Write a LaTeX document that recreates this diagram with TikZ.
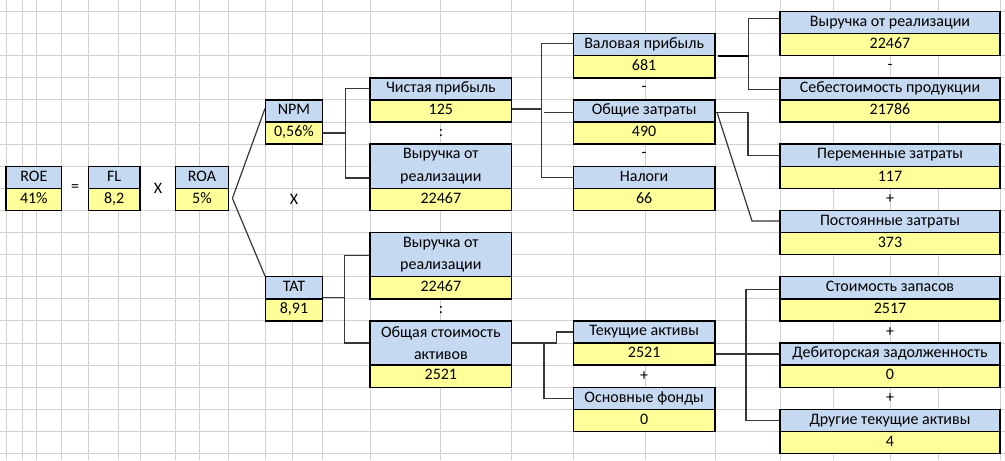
\documentclass[tikz,border=0pt]{standalone}
\usepackage{fontspec}
\setmainfont{Carlito}
\usetikzlibrary{calc}
\definecolor{hdr}{RGB}{197,217,241}
\definecolor{val}{RGB}{255,255,153}
\definecolor{grd}{RGB}{208,208,208}
\definecolor{lnk}{RGB}{55,55,55}
\newcommand\fnt{\fontsize{12}{16.6}\selectfont}
\pgfmathdeclarefunction{R}{1}{\pgfmathparse{11.5+22.1*#1}}
\tikzset{
  cellbase/.style={draw=black, line width=1.05pt, inner sep=0pt, font=\fnt},
  hdrbox/.style={cellbase, fill=hdr, text height=1.55ex, text depth=0.35ex},
  hdrtwo/.style={cellbase, fill=hdr, align=center},
  valbox/.style={cellbase, fill=val, text height=1.55ex, text depth=0.35ex},
  sign/.style={inner sep=0pt, font=\fnt},
  conn/.style={draw=lnk, line width=0.9pt},
  stub/.style={draw=black, line width=1.6pt},
  grid/.style={draw=grd, line width=0.75pt},
}
\newcommand\bx[7]{%
  \pgfmathsetmacro\bxw{(#4-#2)*0.75}%
  \pgfmathsetmacro\bxh{(#5-#3)*0.75}%
  \node[#6, minimum width=\bxw pt, minimum height=\bxh pt] (#1) at ({(#2+#4)/2},{(#3+#5)/2}) {#7};}
\begin{document}
\begin{tikzpicture}[x=0.75pt, y=-0.75pt]
\useasboundingbox (0,0) rectangle (1005,460);
\fill[white] (0,0) rectangle (1005,460);
% grid
\foreach \gx in {6,22.7,36.7,61.7,88.3,118.3,140,175.7,199,228.3,265.7,292.3,322.3,370,440,511.7,573.3,645,715,780,833.3,890,938.3,1000}
  \draw[grid] (\gx,0) -- (\gx,460);
\foreach \k in {0,...,20}
  \draw[grid] (0,{R(\k)}) -- (1005,{R(\k)});
% merged sign cells
\fill[white] (62.1,{R(7)+0.4}) rectangle (87.9,{R(9)-0.4});
\fill[white] (140.4,{R(7)+0.4}) rectangle (175.3,{R(9)-0.4});
% left chain
\bx{roeh}{6}{R(7)}{61.7}{R(8)}{hdrbox}{ROE}
\bx{roev}{6}{R(8)}{61.7}{R(9)}{valbox}{41\%}
\bx{flh}{88.3}{R(7)}{140}{R(8)}{hdrbox}{FL}
\bx{flv}{88.3}{R(8)}{140}{R(9)}{valbox}{8,2}
\bx{roah}{175.7}{R(7)}{228.3}{R(8)}{hdrbox}{ROA}
\bx{roav}{175.7}{R(8)}{228.3}{R(9)}{valbox}{5\%}
\bx{npmh}{265.7}{R(4)}{322.3}{R(5)}{hdrbox}{NPM}
\bx{npmv}{265.7}{R(5)}{322.3}{R(6)}{valbox}{0,56\%}
\bx{tath}{265.7}{R(12)}{322.3}{R(13)}{hdrbox}{TAT}
\bx{tatv}{265.7}{R(13)}{322.3}{R(14)}{valbox}{8,91}
% middle column
\bx{cph}{370}{R(3)}{511.7}{R(4)}{hdrbox}{Чистая прибыль}
\bx{cpv}{370}{R(4)}{511.7}{R(5)}{valbox}{125}
\bx{vr1h}{370}{R(6)}{511.7}{R(8)}{hdrtwo}{Выручка от\\реализации}
\bx{vr1v}{370}{R(8)}{511.7}{R(9)}{valbox}{22467}
\bx{vr2h}{370}{R(10)}{511.7}{R(12)}{hdrtwo}{Выручка от\\реализации}
\bx{vr2v}{370}{R(12)}{511.7}{R(13)}{valbox}{22467}
\bx{osh}{370}{R(14)}{511.7}{R(16)}{hdrtwo}{Общая стоимость\\активов}
\bx{osv}{370}{R(16)}{511.7}{R(17)}{valbox}{2521}
% second column
\bx{vph}{573.3}{R(1)}{715}{R(2)}{hdrbox}{Валовая прибыль}
\bx{vpv}{573.3}{R(2)}{715}{R(3)}{valbox}{681}
\bx{ozh}{573.3}{R(4)}{715}{R(5)}{hdrbox}{Общие затраты}
\bx{ozv}{573.3}{R(5)}{715}{R(6)}{valbox}{490}
\bx{nlh}{573.3}{R(7)}{715}{R(8)}{hdrbox}{Налоги}
\bx{nlv}{573.3}{R(8)}{715}{R(9)}{valbox}{66}
\bx{tah}{573.3}{R(14)}{715}{R(15)}{hdrbox}{Текущие активы}
\bx{tav}{573.3}{R(15)}{715}{R(16)}{valbox}{2521}
\bx{ofh}{573.3}{R(17)}{715}{R(18)}{hdrbox}{Основные фонды}
\bx{ofv}{573.3}{R(18)}{715}{R(19)}{valbox}{0}
% right column
\bx{rvh}{780}{R(0)}{1000}{R(1)}{hdrbox}{Выручка от реализации}
\bx{rvv}{780}{R(1)}{1000}{R(2)}{valbox}{22467}
\bx{sbh}{780}{R(3)}{1000}{R(4)}{hdrbox}{Себестоимость продукции}
\bx{sbv}{780}{R(4)}{1000}{R(5)}{valbox}{21786}
\bx{peh}{780}{R(6)}{1000}{R(7)}{hdrbox}{Переменные затраты}
\bx{pev}{780}{R(7)}{1000}{R(8)}{valbox}{117}
\bx{poh}{780}{R(9)}{1000}{R(10)}{hdrbox}{Постоянные затраты}
\bx{pov}{780}{R(10)}{1000}{R(11)}{valbox}{373}
\bx{szh}{780}{R(12)}{1000}{R(13)}{hdrbox}{Стоимость запасов}
\bx{szv}{780}{R(13)}{1000}{R(14)}{valbox}{2517}
\bx{dzh}{780}{R(15)}{1000}{R(16)}{hdrbox}{Дебиторская задолженность}
\bx{dzv}{780}{R(16)}{1000}{R(17)}{valbox}{0}
\bx{dth}{780}{R(18)}{1000}{R(19)}{hdrbox}{Другие текущие активы}
\bx{dtv}{780}{R(19)}{1000}{R(20)}{valbox}{4}
% signs
\node[sign] (s1) at (75,{R(8)}) {=};
\node[sign] (s2) at (158,{R(8)}) {X};
\node[sign] (s3) at (294,{R(8.5)}) {X};
\node[sign] (s4) at (441,{R(5.5)}) {:};
\node[sign] (s5) at (441,{R(13.5)}) {:};
\node[sign] (s6) at (644,{R(3.5)}) {-};
\node[sign] (s7) at (644,{R(6.5)}) {-};
\node[sign] (s8) at (644,{R(16.5)}) {+};
\node[sign] (s9) at (890,{R(2.5)}) {-};
\node[sign] (s10) at (890,{R(8.5)}) {+};
\node[sign] (s11) at (890,{R(14.5)}) {+};
\node[sign] (s12) at (890,{R(17.5)}) {+};
% connectors
\coordinate (roatip) at ($(roav.east)+(3.4,-1)$);
\draw[conn] (roatip) -- ($(npmh.west)+(0,-2.5)$);
\draw[conn] (roatip) -- (tath.north west);
% NPM bracket
\coordinate (j1) at ($(cph.west)+(-24,0)$);
\draw[conn] (cph.west) -- (j1) |- ($(vr1h.south west)+(0,-11)$);
\draw[conn] (npmv.east) -- (j1 |- npmv.east);
% net profit bracket
\coordinate (j2) at ($(vph.west)+(-31,-1)$);
\draw[conn] ($(vph.west)+(0,-1)$) -- (j2) |- (nlh.west);
\draw[conn] ($(cpv.east)+(0,-2)$) -- ($(j2 |- cpv.east)+(0,-2)$);
\draw[conn] ($(j2 |- ozh.west)+(2.7,1.5)$) -- ($(ozh.west)+(0,1.5)$);
% gross profit bracket
\coordinate (j3) at ($(rvh.west)+(-30.7,-4)$);
\draw[conn] ($(rvh.west)+(0,-4)$) -- (j3) |- ($(sbh.west)+(0,1)$);
\draw[stub] ($(vph.south east)+(2,0)$) -- (j3 |- vph.south east);
% total costs bracket
\coordinate (j4) at ($(ozh.east)+(32.3,1.5)$);
\draw[conn] ($(ozh.east)+(0,1.5)$) -- (j4) |- (peh.west);
\draw[conn] ($(ozh.east)+(1.5,2)$) -- ($(poh.west)+(-27.3,-0.5)$) -- ($(poh.west)+(0,-0.5)$);
% TAT bracket
\coordinate (j5) at ($(vr2h.west)+(-25,1)$);
\draw[conn] ($(vr2h.west)+(0,1)$) -- (j5) |- (osh.west);
\draw[conn] ($(tath.south east)+(0,-2)$) -- ($(j5 |- tath.south east)+(0,-2)$);
% total assets bracket
\coordinate (j6) at ($(osh.east)+(44.3,0)$);
\draw[conn] (osh.east) -- (j6) |- (tah.west);
\coordinate (j7) at ($(osh.east)+(31.6,0)$);
\draw[conn] (j7) |- (ofh.west);
% current assets bracket
\draw[conn] (tav.east) -- (dzh.west);
\coordinate (j8) at ($(szh.west)+(-33.3,1.5)$);
\draw[conn] ($(szh.west)+(0,1.5)$) -- (j8) |- (dth.west);
\end{tikzpicture}
\end{document}
